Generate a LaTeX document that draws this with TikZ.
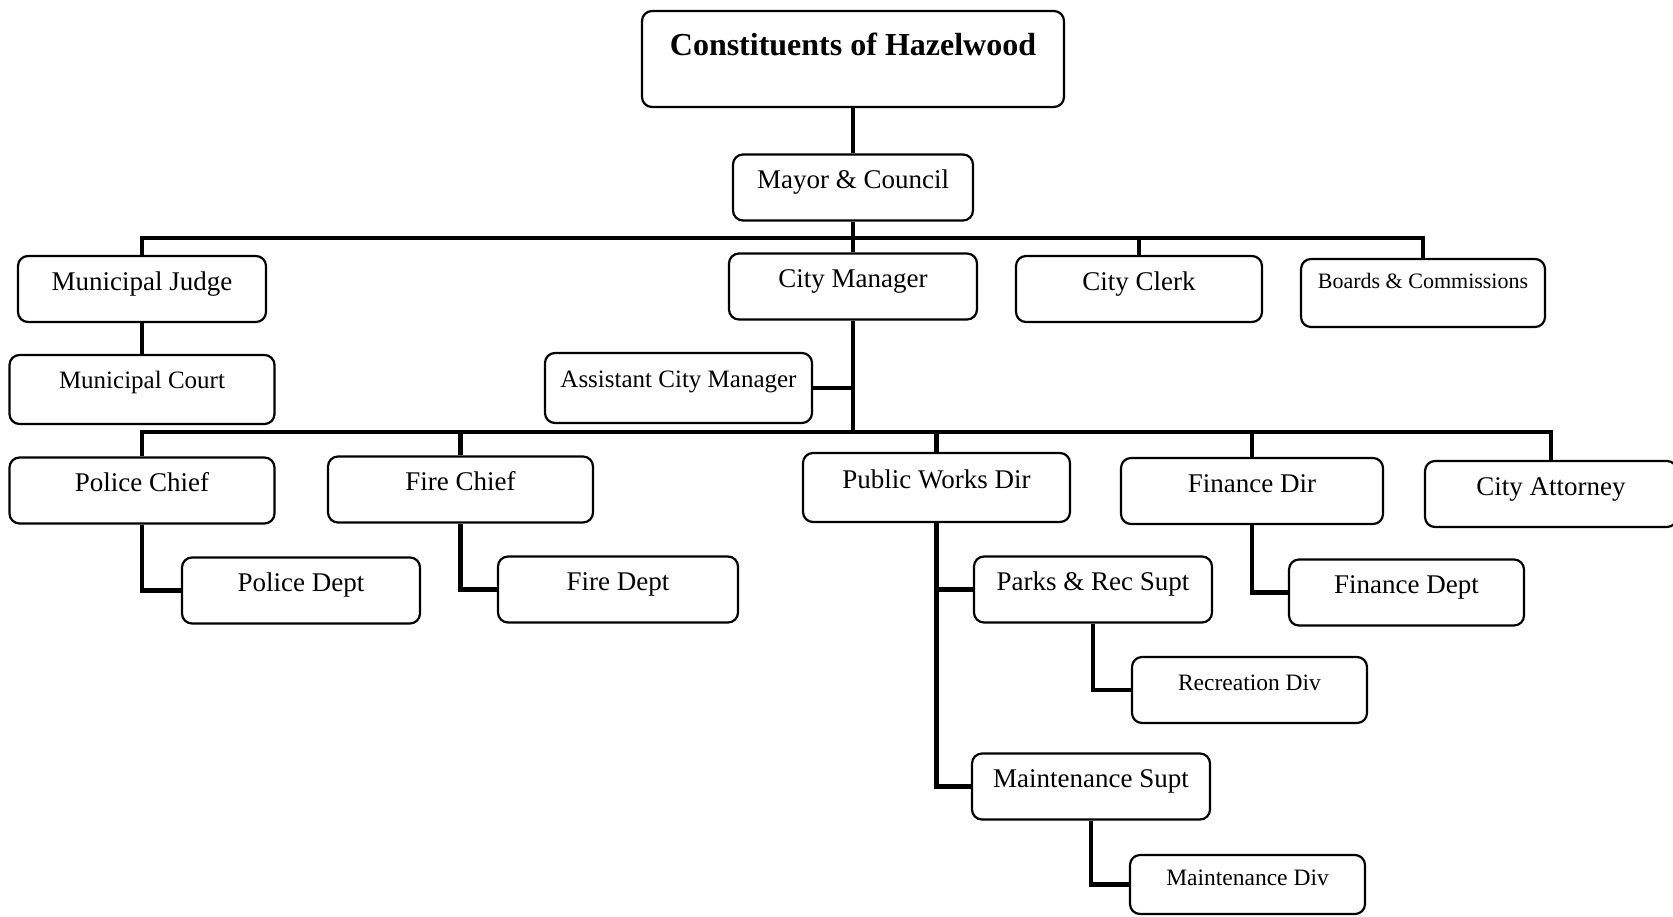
\documentclass[tikz,border=0pt]{standalone}
\usepackage{fontspec}
\setmainfont{Liberation Serif}
\usepackage{tikz}

\begin{document}
\begin{tikzpicture}[x=0.5pt,y=-0.5pt,
    every node/.style={font=\fontsize{13.5}{16}\selectfont},
    unit/.style={draw, line width=1.1pt, rounded corners=5pt, inner sep=0pt,
        minimum height=33pt, text height=10pt, text depth=9pt},
    smallunit/.style={unit, font=\fontsize{12.5}{15}\selectfont, text depth=11pt},
    divunit/.style={unit, font=\fontsize{11.75}{14}\selectfont},
    link/.style={line width=2.3pt}]
    \useasboundingbox (0,0) rectangle (1673,916);

    % top of the chart
    \node[unit, minimum width=211pt, minimum height=48pt, text height=12pt, text depth=15.5pt,
        font=\fontsize{16}{19}\selectfont\bfseries] (const) at (853,59) {Constituents of Hazelwood};
    \node[unit, minimum width=120pt] (mayor) at (853,187.5) {Mayor \& Council};

    \node[unit, minimum width=124pt] (judge) at (142,289) {Municipal Judge};
    \node[unit, minimum width=124pt] (mgr) at (853,286.5) {City Manager};
    \node[unit, minimum width=123pt] (clerk) at (1139,289) {City Clerk};
    \node[unit, minimum width=122pt, minimum height=34pt, text height=8pt, text depth=12.8pt,
        font=\fontsize{11}{13}\selectfont] (boards) at (1423,293) {Boards \& Commissions};

    \node[smallunit, minimum width=132.5pt, minimum height=34.5pt] (court) at (142,389.5) {Municipal Court};
    \node[smallunit, minimum width=133.5pt, minimum height=35pt] (asst) at (678.5,388) {Assistant City Manager};

    % department heads
    \node[unit, minimum width=132.5pt] (pchief) at (142,490.5) {Police Chief};
    \node[unit, minimum width=132.5pt] (fchief) at (460.5,489.5) {Fire Chief};
    \node[unit, minimum width=133.5pt, minimum height=34.5pt] (pw) at (936.5,487.5) {Public Works Dir};
    \node[unit, minimum width=131pt] (findir) at (1252,491) {Finance Dir};
    \node[unit, minimum width=126pt] (atty) at (1551,494) {City Attorney};

    \node[unit, minimum width=119pt] (pdept) at (301,590.5) {Police Dept};
    \node[unit, minimum width=120pt] (fdept) at (618,589.5) {Fire Dept};
    \node[unit, minimum width=119pt] (parks) at (1093,589.5) {Parks \& Rec Supt};
    \node[unit, minimum width=117.5pt] (findept) at (1406.5,592.5) {Finance Dept};
    \node[divunit, minimum width=117.5pt, text depth=10pt] (recdiv) at (1249.5,690) {Recreation Div};
    \node[unit, minimum width=119pt] (maint) at (1091,786.5) {Maintenance Supt};
    \node[divunit, minimum width=117.5pt, minimum height=29.5pt] (maintdiv) at (1247.5,884.5) {Maintenance Div};

    % connectors
    \coordinate (bus1) at (853,238);
    \coordinate (bus2) at (853,432);

    \draw[link] (const) -- (mayor);
    \draw[link] (mayor) -- (mgr);
    \draw[link] (judge.north) |- (bus1) -| (boards.north);
    \draw[link] (clerk.north) -- (clerk.north |- bus1);
    \draw[link] (judge) -- (court);

    \draw[link] (mgr.south) -- (mgr.south |- bus2);
    \draw[link] (asst.east) -- (asst.east -| mgr);
    \draw[link] (pchief.north) |- (bus2) -| (atty.north);
    \foreach \n in {fchief, pw, findir}
        \draw[link] (\n.north) -- (\n.north |- bus2);

    \draw[link] (pchief) |- (pdept);
    \draw[link] (fchief) |- (fdept);
    \draw[link] (pw) |- (parks);
    \draw[link] (pw) |- (maint);
    \draw[link] (parks) |- (recdiv);
    \draw[link] (findir) |- (findept);
    \draw[link] (maint) |- (maintdiv);
\end{tikzpicture}
\end{document}
